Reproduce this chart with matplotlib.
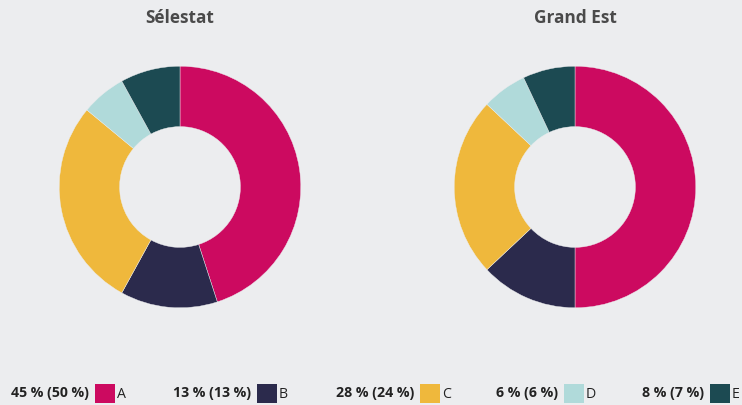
import matplotlib
matplotlib.use("Agg")
import matplotlib.pyplot as plt
from matplotlib.patches import Rectangle

plt.rcParams["font.family"] = ["Open Sans", "DejaVu Sans"]

BG = "#ecedef"
TITLE_INK = "#4a4a4a"
INK = "#222222"

regions = ["Sélestat", "Grand Est"]
categories = ["A", "B", "C", "D", "E"]
selestat = [45, 13, 28, 6, 8]
grand_est = [50, 13, 24, 6, 7]
colors = ["#cc0a60", "#2b2a4c", "#efb83c", "#b0dada", "#1c4a52"]

W, H = 742, 405
fig = plt.figure(figsize=(W / 100, H / 100), dpi=100)
fig.patch.set_facecolor(BG)


def px_axes(cx, cy, r):
    # cx, cy in pixels from top-left
    return fig.add_axes([(cx - r) / W, (H - cy - r) / H, 2 * r / W, 2 * r / H])


for (name, vals, cx) in [(regions[0], selestat, 180), (regions[1], grand_est, 575)]:
    ax = px_axes(cx, 187, 122)
    ax.pie(vals, colors=colors, startangle=90, counterclock=False,
           radius=1.0, wedgeprops=dict(width=0.5, edgecolor=BG, linewidth=0.3))
    ax.set_aspect("equal")
    ax.set_xlim(-1.01, 1.01)
    ax.set_ylim(-1.01, 1.01)
    fig.text(cx / W, 1 - 18 / H, name, ha="center", va="center",
             fontsize=12.4, fontweight="bold", color=TITLE_INK)

# legend row
lx = [89, 251, 414, 558, 704]
for i, cat in enumerate(categories):
    label = f"{selestat[i]} % ({grand_est[i]} %)"
    x = lx[i]
    fig.text(x / W, 1 - 393 / H, label, ha="right", va="center",
             fontsize=10.2, fontweight="bold", color=INK)
    fig.patches.append(Rectangle(((x + 6) / W, 1 - 403 / H), 20 / W, 19 / H,
                                 transform=fig.transFigure, fc=colors[i], ec="none"))
    fig.text((x + 28) / W, 1 - 394 / H, cat, ha="left", va="center",
             fontsize=10.2, color=INK)

fig.savefig("out.png", dpi=100, facecolor=BG)
